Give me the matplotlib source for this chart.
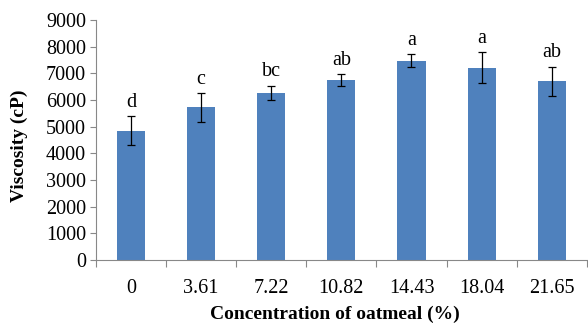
import numpy as np
import matplotlib.pyplot as plt

concentrations = ["0", "3.61", "7.22", "10.82", "14.43", "18.04", "21.65"]
viscosity = [4850, 5730, 6280, 6750, 7480, 7210, 6710]
errors = [550, 540, 265, 240, 245, 580, 545]
letters = ["d", "c", "bc", "ab", "a", "a", "ab"]

plt.rcParams["font.family"] = ["Liberation Serif", "DejaVu Serif"]

fig = plt.figure(figsize=(5.88, 3.24), dpi=100)
ax = fig.add_axes([0.163, 0.1975, 0.835, 0.7405])

x = np.arange(len(concentrations))
ax.bar(x, viscosity, width=0.4, color="#4F81BD", zorder=2)
ax.errorbar(x, viscosity, yerr=errors, fmt="none", ecolor="black",
            elinewidth=0.9, capsize=3, capthick=0.9, zorder=3)

for xi, v, e, lab in zip(x, viscosity, errors, letters):
    ax.annotate(lab, (xi, v + e), xytext=(0, 3), textcoords="offset points",
                ha="center", va="bottom", fontsize=14.5)

ax.set_xlim(-0.5, len(concentrations) - 0.5)
ax.set_ylim(0, 9000)
ax.set_yticks(np.arange(0, 9001, 1000))
ax.set_xticks(x)
ax.set_xticklabels(concentrations)
ax.set_xticks(np.arange(-0.5, len(concentrations), 1), minor=True)

ax.tick_params(axis="x", which="major", length=0, labelsize=14.5, pad=14)
ax.tick_params(axis="x", which="minor", length=5, color="#888888", width=0.8)
ax.tick_params(axis="y", length=4, color="#888888", width=0.8, labelsize=14.5, pad=3)

for side in ["top", "right"]:
    ax.spines[side].set_visible(False)
for side in ["left", "bottom"]:
    ax.spines[side].set_color("#888888")
    ax.spines[side].set_linewidth(0.8)

ax.set_ylabel("Viscosity (cP)", fontsize=14, fontweight="bold", va="center")
ax.yaxis.set_label_coords(-0.155, 0.475)
ax.set_xlabel("Concentration of oatmeal (%)", fontsize=14, fontweight="bold", va="center")
ax.xaxis.set_label_coords(0.487, -0.225)

fig.savefig("out.png", dpi=100)
